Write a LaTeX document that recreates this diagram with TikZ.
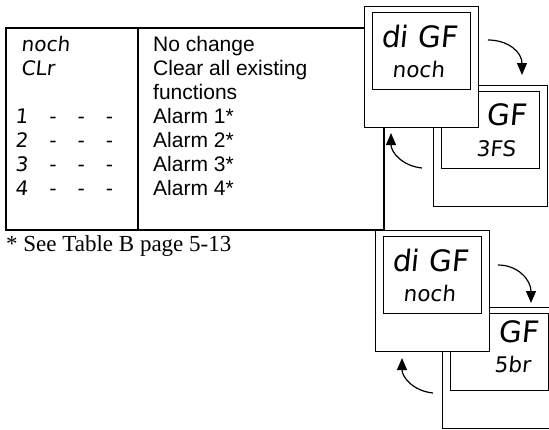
\documentclass[tikz,border=0pt]{standalone}
\usepackage{fontspec}
\setmainfont{Liberation Sans}
\newfontfamily\notefont{Liberation Serif}
\newfontfamily\segfont{DejaVu Sans}[FakeSlant=0.1]
\newcommand{\segsep}{\hspace{21pt}}
\usetikzlibrary{arrows.meta}

\tikzset{
  panel/.style={draw, fill=white, line width=1.3pt, minimum width=114pt,
    minimum height=121pt, anchor=north west, inner sep=0pt},
  screen/.style={draw, line width=1.3pt, minimum width=98pt,
    minimum height=77pt, anchor=north west, inner sep=0pt},
  segbig/.style={font=\segfont\fontsize{29.5}{30}\selectfont, anchor=base west, inner sep=0pt},
  segsmall/.style={font=\segfont\fontsize{21.5}{22}\selectfont, anchor=base west, inner sep=0pt},
  segrow/.style={font=\segfont\fontsize{20}{24}\selectfont, anchor=base west, inner sep=0pt},
  desc/.style={font=\fontsize{21}{24}\selectfont, anchor=base west, inner sep=0pt},
  flow/.style={line width=1.2pt, -{Triangle[width=10pt,length=12pt]}},
}

\begin{document}
\begin{tikzpicture}[x=1pt, y=-1pt]
  % 1. Page frame, same size as the reference
  \fill[white] (0,0) rectangle (549,429);
  \clip (0,0) rectangle (549,429);

  % 2. The table with its two columns
  \draw[line width=2pt] (6,28) rectangle (384,230);
  \draw[line width=2pt] (138,28) -- (138,230);

  \node[segrow] (noch) at (21,51) {noch};
  \node[segrow] (clr) at (21,75) {CLr};
  \node[desc] (nochtext) at (153,51) {No change};
  \node[desc] (clrtext) at (153,75) {Clear all existing};
  \node[desc] (clrtext2) at (153,99) {functions};

  % Alarm rows 1 to 4, 24 apart
  \foreach \n/\y in {1/123, 2/147, 3/171, 4/195} {
    \node[segrow] (alarm\n) at (15,\y) {\n\segsep-\segsep-\segsep-};
    \node[desc] (alarmtext\n) at (153,\y) {Alarm \n*};
  }

  \node[font=\notefont\fontsize{23}{24}\selectfont, anchor=base west, inner sep=0pt]
    (footnote) at (6,251) {* See Table B page 5-13};

  % 3. Display panels, back one first so the front one covers it
  \foreach \name/\x/\y in {back1/433/85, front1/364/6, back2/442/307, front2/375/230} {
    \node[panel] (\name) at (\x,\y) {};
    \node[screen] (\name-screen) at (\x+8,\y+6) {};
  }

  % 4. Texts on the displays
  \node[segbig] (digf1) at (381,47) {di GF};
  \node[segsmall] (val1) at (392,77) {noch};
  \node[segbig] (gf1) at (486,125) {GF};
  \node[segsmall] (val2) at (476,156) {3FS};

  \node[segbig] (digf2) at (392,271) {di GF};
  \node[segsmall] (val3) at (403,301) {noch};
  \node[segbig] (gf2) at (498,342) {GF};
  \node[segsmall] (val4) at (494,372) {5br};

  % 5. Curved arrows between front and back displays
  \coordinate (down1-from) at (488,40);
  \coordinate (down1-to) at (522,75);
  \coordinate (up1-from) at (422,168);
  \coordinate (up1-to) at (391,133);
  \coordinate (down2-from) at (498,265);
  \coordinate (down2-to) at (531,303);
  \coordinate (up2-from) at (433,393);
  \coordinate (up2-to) at (402,358);

  \draw[flow] (down1-from) .. controls (508,40) and (522,52) .. (down1-to);
  \draw[flow] (up1-from) .. controls (402,166) and (391,152) .. (up1-to);
  \draw[flow] (down2-from) .. controls (518,265) and (531,280) .. (down2-to);
  \draw[flow] (up2-from) .. controls (413,391) and (402,377) .. (up2-to);
\end{tikzpicture}
\end{document}
